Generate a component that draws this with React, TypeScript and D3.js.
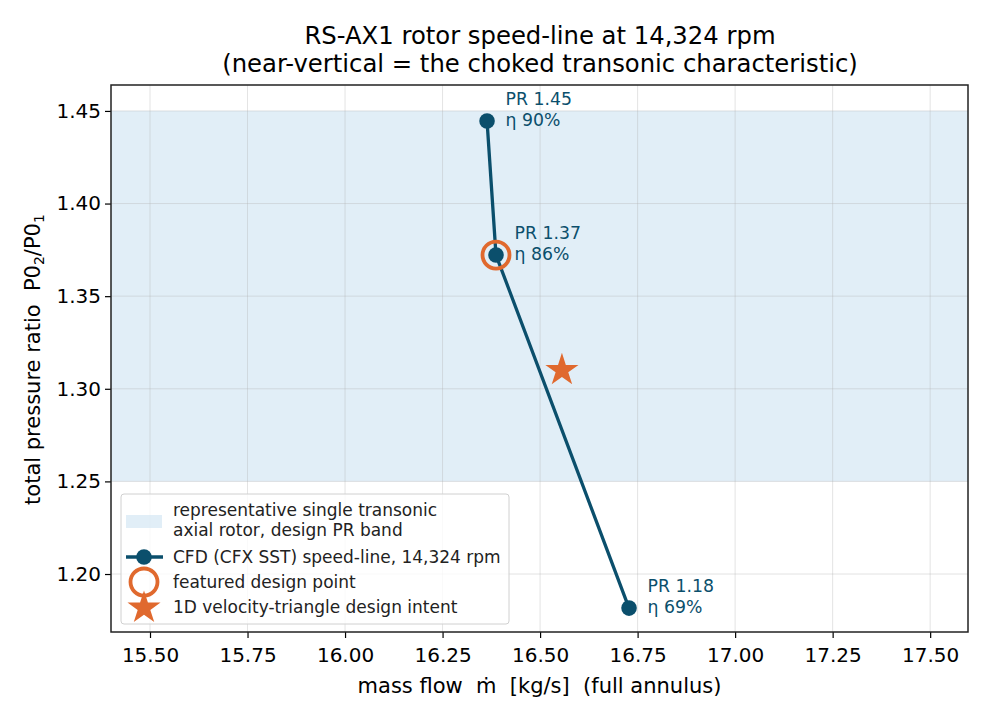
import * as d3 from "d3";
import { useEffect, useRef } from "react";

// speed-line points
const massFlow = [16.364, 16.387, 16.728];
const pressureRatio = [1.4446, 1.3722, 1.1816];
const prLabels = ["PR 1.45", "PR 1.37", "PR 1.18"];
const etaLabels = ["η 90%", "η 86%", "η 69%"];
const featuredIndex = 1;
const intentPoint = [16.556, 1.31];
const bandRange = [1.25, 1.45];
const xTicks = [15.5, 15.75, 16.0, 16.25, 16.5, 16.75, 17.0, 17.25, 17.5];
const yTicks = [1.2, 1.25, 1.3, 1.35, 1.4, 1.45];
const legendLabels = [
    ["representative single transonic", "axial rotor, design PR band"],
    ["CFD (CFX SST) speed-line, 14,324 rpm"],
    ["featured design point"],
    ["1D velocity-triangle design intent"]
];

function App({
    width = 990,
    height = 720,
    marginTop = 85,
    marginRight = 22,
    marginBottom = 88,
    marginLeft = 111
}) {
    const svgRef = useRef(null);
    const navy = "#0b4f6c";
    const orange = "#e0692e";
    const font = "DejaVu Sans, sans-serif";

    useEffect(() => {
        const svg = d3.select(svgRef.current);
        svg.selectAll("*").remove();

        const x = d3.scaleLinear([15.4, 17.597], [marginLeft, width - marginRight]);
        const y = d3.scaleLinear([1.1687, 1.464], [height - marginBottom, marginTop]);
        const starPath = d3.symbol(d3.symbolStar, 340)();

        svg.append("rect").attr("width", width).attr("height", height).attr("fill", "white");

        // design PR band
        svg.append("rect")
            .attr("x", marginLeft)
            .attr("y", y(bandRange[1]))
            .attr("width", width - marginLeft - marginRight)
            .attr("height", y(bandRange[0]) - y(bandRange[1]))
            .attr("fill", "#d4e7f4")
            .attr("opacity", 0.7);

        // grid
        const grid = svg.append("g").attr("stroke", "#b0b0b0").attr("stroke-opacity", 0.35).attr("stroke-width", 1);
        xTicks.forEach(t => grid.append("line")
            .attr("x1", x(t)).attr("x2", x(t))
            .attr("y1", marginTop).attr("y2", height - marginBottom));
        yTicks.forEach(t => grid.append("line")
            .attr("x1", marginLeft).attr("x2", width - marginRight)
            .attr("y1", y(t)).attr("y2", y(t)));

        // speed-line
        const line = d3.line().x(d => x(d[0])).y(d => y(d[1]));
        const pts = massFlow.map((m, i) => [m, pressureRatio[i]]);
        svg.append("path")
            .attr("d", line(pts))
            .attr("fill", "none")
            .attr("stroke", navy)
            .attr("stroke-width", 3.3);

        svg.append("circle")
            .attr("cx", x(massFlow[featuredIndex]))
            .attr("cy", y(pressureRatio[featuredIndex]))
            .attr("r", 13.5)
            .attr("fill", "none")
            .attr("stroke", orange)
            .attr("stroke-width", 3.8);

        svg.selectAll(".pt").data(pts).enter().append("circle")
            .attr("cx", d => x(d[0]))
            .attr("cy", d => y(d[1]))
            .attr("r", 7.8)
            .attr("fill", navy);

        svg.append("path")
            .attr("d", starPath)
            .attr("transform", `translate(${x(intentPoint[0])},${y(intentPoint[1])})`)
            .attr("fill", orange);

        // annotations
        pts.forEach((d, i) => {
            const t = svg.append("text")
                .attr("x", x(d[0]) + 18.5)
                .attr("y", y(d[1]))
                .attr("fill", navy)
                .style("font-family", font)
                .style("font-size", "17.3px");
            t.append("tspan").attr("x", x(d[0]) + 18.5).attr("dy", -16).text(prLabels[i]);
            t.append("tspan").attr("x", x(d[0]) + 18.5).attr("dy", 21).text(etaLabels[i]);
        });

        // axes
        const xAxis = d3.axisBottom(x).tickValues(xTicks).tickFormat(d3.format(".2f")).tickSize(6).tickPadding(10);
        const gx = svg.append("g").attr("transform", `translate(0,${height - marginBottom})`).call(xAxis);
        const yAxis = d3.axisLeft(y).tickValues(yTicks).tickFormat(d3.format(".2f")).tickSize(6).tickPadding(4);
        const gy = svg.append("g").attr("transform", `translate(${marginLeft},0)`).call(yAxis);
        [gx, gy].forEach(g => {
            g.select(".domain").remove();
            g.selectAll("text").style("font-family", font).style("font-size", "20px").attr("fill", "#000");
            g.selectAll("line").attr("stroke", "#000").attr("stroke-width", 1.2);
        });

        svg.append("rect")
            .attr("x", marginLeft).attr("y", marginTop)
            .attr("width", width - marginLeft - marginRight)
            .attr("height", height - marginTop - marginBottom)
            .attr("fill", "none")
            .attr("stroke", "#222")
            .attr("stroke-width", 1.5);

        // axis labels
        svg.append("text")
            .attr("x", (marginLeft + width - marginRight) / 2)
            .attr("y", 693)
            .attr("text-anchor", "middle")
            .style("font-family", font)
            .style("font-size", "21px")
            .attr("xml:space", "preserve")
            .text("mass flow  ṁ  [kg/s]  (full annulus)");

        const yl = svg.append("text")
            .attr("transform", `translate(40,${(marginTop + height - marginBottom) / 2 + 1}) rotate(-90)`)
            .attr("text-anchor", "middle")
            .style("font-family", font)
            .style("font-size", "21px")
            .attr("xml:space", "preserve");
        yl.append("tspan").text("total pressure ratio  P0");
        yl.append("tspan").attr("dy", 4).style("font-size", "14px").text("2");
        yl.append("tspan").attr("dy", -4).text("/P0");
        yl.append("tspan").attr("dy", 4).style("font-size", "14px").text("1");

        // title
        const title = svg.append("text")
            .attr("text-anchor", "middle")
            .style("font-family", font)
            .style("font-size", "24.3px");
        title.append("tspan").attr("x", 540).attr("y", 44).text("RS-AX1 rotor speed-line at 14,324 rpm");
        title.append("tspan").attr("x", 540).attr("y", 72).text("(near-vertical = the choked transonic characteristic)");

        // legend
        const lg = svg.append("g").attr("transform", "translate(121,494)");
        lg.append("rect")
            .attr("width", 388).attr("height", 130).attr("rx", 3)
            .attr("fill", "white").attr("fill-opacity", 0.8)
            .attr("stroke", "#d0d0d0");
        lg.append("rect").attr("x", 5).attr("y", 21).attr("width", 36).attr("height", 13)
            .attr("fill", "#d4e7f4").attr("opacity", 0.7);
        lg.append("line").attr("x1", 5).attr("x2", 42).attr("y1", 63).attr("y2", 63)
            .attr("stroke", navy).attr("stroke-width", 3.3);
        lg.append("circle").attr("cx", 23).attr("cy", 63).attr("r", 7.8).attr("fill", navy);
        lg.append("circle").attr("cx", 23).attr("cy", 88).attr("r", 13.5)
            .attr("fill", "none").attr("stroke", orange).attr("stroke-width", 3.8);
        lg.append("path").attr("d", starPath).attr("transform", "translate(23,114)").attr("fill", orange);

        const rowsY = [[16, 36], [63], [88], [113]];
        legendLabels.forEach((lines, i) => {
            lines.forEach((s, j) => lg.append("text")
                .attr("x", 52).attr("y", rowsY[i][j]).attr("dy", "0.35em")
                .style("font-family", font).style("font-size", "17px")
                .attr("fill", "#222")
                .text(s));
        });
    }, []);

    return (
        <svg ref={svgRef} width={width} height={height}
            style={{ position: "absolute", left: 0, top: 0, display: "block" }} />
    );
}

export default App;
